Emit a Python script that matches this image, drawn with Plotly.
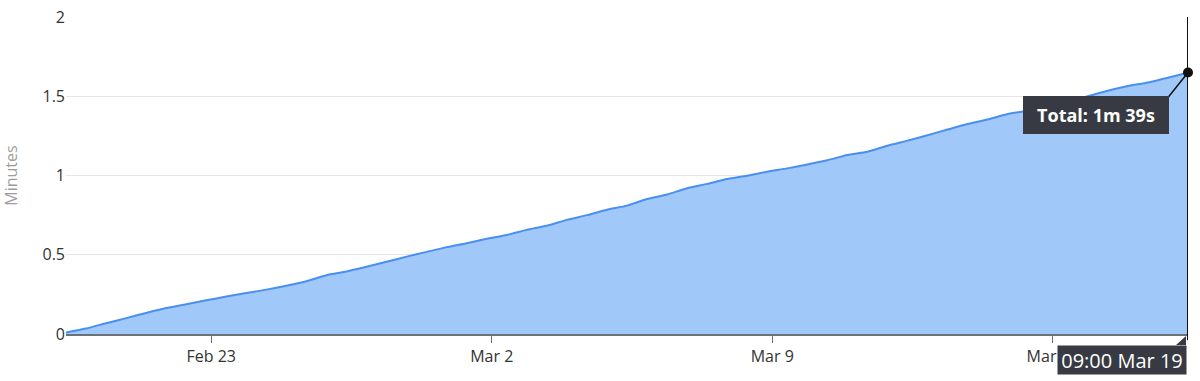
import plotly.graph_objects as go
import pandas as pd

# Cumulative total (minutes), sampled every 12 hours from Feb 19 09:00 to Mar 19 09:00
start_time = "2025-02-19 09:00"
step = "12h"
total_minutes = [
    0.010, 0.035, 0.068, 0.100, 0.133, 0.164, 0.188, 0.213, 0.236, 0.258,
    0.280, 0.305, 0.333, 0.371, 0.394, 0.424, 0.456, 0.488, 0.518, 0.548,
    0.573, 0.601, 0.625, 0.657, 0.683, 0.720, 0.750, 0.784, 0.810, 0.852,
    0.880, 0.920, 0.947, 0.978, 0.999, 1.024, 1.045, 1.070, 1.096, 1.130,
    1.150, 1.188, 1.220, 1.254, 1.290, 1.325, 1.353, 1.388, 1.408, 1.430,
    1.460, 1.500, 1.535, 1.565, 1.587, 1.617, 1.650,
]
tick_dates = ["2025-02-23", "2025-03-02", "2025-03-09", "2025-03-16"]
tick_labels = ["Feb 23", "Mar 2", "Mar 9", "Mar 16"]
y_ticks = [0, 0.5, 1, 1.5, 2]
hover_total_label = "Total: 1m 39s"
hover_time_label = "09:00 Mar 19"

times = pd.date_range(start=start_time, periods=len(total_minutes), freq=step)
end_time = times[-1]

FONT = "Open Sans, Noto Sans, sans-serif"
DARK = "#373a42"

fig = go.Figure()
fig.add_trace(go.Scatter(
    x=times, y=total_minutes, mode="lines",
    line=dict(color="#4a8ff0", width=2, shape="spline", smoothing=0.6),
    fill="tozeroy", fillcolor="#a0c9fa",
    hoverinfo="skip", showlegend=False,
))

# crosshair
fig.add_shape(type="line", xref="x", yref="paper", x0=end_time, x1=end_time,
              y0=-0.02, y1=1, line=dict(color="#111111", width=2), layer="above")

# connector from tooltip box corner to the point
fig.add_shape(type="line", xref="x", yref="y", xsizemode="pixel", ysizemode="pixel",
              xanchor=end_time, yanchor=total_minutes[-1],
              x0=-20, x1=0, y0=-25, y1=0, line=dict(color="#111111", width=1.5), layer="above")

# hovered point marker
fig.add_trace(go.Scatter(
    x=[end_time], y=[total_minutes[-1]], mode="markers",
    marker=dict(color="#111111", size=10),
    hoverinfo="skip", showlegend=False, cliponaxis=False,
))

# tooltip box
fig.add_annotation(
    x=end_time, y=total_minutes[-1], xref="x", yref="y",
    text="<b>" + hover_total_label + "</b>", showarrow=False,
    xanchor="right", yanchor="top", xshift=-19, yshift=-24,
    width=136, height=28, align="center", valign="middle",
    font=dict(family=FONT, size=18, color="white"),
    bgcolor=DARK, borderpad=5, borderwidth=0,
)

# x crosshair label
fig.add_annotation(
    x=end_time, y=0, xref="x", yref="paper",
    text=hover_time_label, showarrow=False,
    xanchor="right", yanchor="top", xshift=-1, yshift=-11,
    width=124, height=24, align="center", valign="middle",
    font=dict(family=FONT, size=20, color="white"),
    bgcolor=DARK, borderpad=2,
)
# small pointer triangle on label
fig.add_shape(type="path", xref="x", yref="paper", xsizemode="pixel", ysizemode="pixel",
              xanchor=end_time, yanchor=0,
              path="M -12 -11 L -2 -2 L -2 -11 Z",
              fillcolor=DARK, line=dict(width=0), layer="above")

fig.update_layout(
    width=1200, height=381, autosize=False,
    margin=dict(l=66, r=12, t=17, b=47, autoexpand=False),
    plot_bgcolor="white", paper_bgcolor="white",
    font=dict(family=FONT, color="#333333", size=16),
    xaxis=dict(
        range=[times[0], end_time], automargin=False,
        tickvals=pd.to_datetime(tick_dates), ticktext=tick_labels,
        showgrid=False, showline=True, linecolor="#6b7079", linewidth=2,
        ticks="outside", ticklen=7, tickcolor="#6b7079", tickwidth=1,
        tickfont=dict(size=16, color="#333333"), zeroline=False,
    ),
    yaxis=dict(
        range=[0, 2], tickvals=y_ticks, automargin=False,
        showgrid=True, gridcolor="#e6e6e6", gridwidth=1,
        zeroline=False, showline=False, ticks="", ticklen=0,
        tickfont=dict(size=16, color="#333333"),
        title=dict(text="Minutes", font=dict(size=16, color="#9d9d9d"), standoff=33),
    ),
)

fig.write_html(
    "out.html",
    config={"displayModeBar": False},
    post_script="document.body.style.margin='0';document.documentElement.style.overflow='hidden';",
)
